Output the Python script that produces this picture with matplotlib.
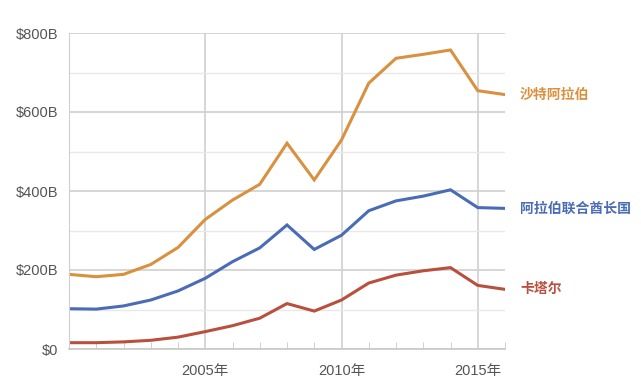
import matplotlib
matplotlib.use("Agg")
import matplotlib.pyplot as plt
from matplotlib.ticker import MultipleLocator, FixedLocator, FuncFormatter

plt.rcParams['font.family'] = ['Liberation Sans', 'Noto Sans CJK SC', 'DejaVu Sans']

years = list(range(2000, 2017))
saudi = [189, 183, 189, 214, 257, 328, 377, 417, 521, 428, 529, 673, 736, 746, 757, 654, 644]
uae = [102, 101, 109, 124, 147, 179, 221, 256, 314, 252, 288, 350, 375, 387, 403, 358, 356]
qatar = [16, 16, 18, 22, 30, 44, 59, 78, 115, 96, 124, 167, 187, 198, 206, 161, 151]
names = ['沙特阿拉伯', '阿拉伯联合酋长国', '卡塔尔']
colors = ['#d9913f', '#4a6cb6', '#b9503e']
label_years = [2005, 2010, 2015]

fig = plt.figure(figsize=(6.41, 3.84), dpi=100)
ax = fig.add_axes([69 / 641, 1 - 349 / 384, 436 / 641, 316 / 384])

for vals, name, c in zip([saudi, uae, qatar], names, colors):
    ax.plot(years, vals, color=c, lw=2.2, solid_joinstyle='miter')
    ax.text(years[-1] + 0.55, vals[-1], name, color=c, fontsize=10,
            fontweight='bold', va='center', ha='left',
            family=['Noto Sans CJK SC', 'DejaVu Sans'])

ax.set_xlim(2000, 2016)
ax.set_ylim(0, 800)
ax.yaxis.set_major_locator(MultipleLocator(200))
ax.yaxis.set_minor_locator(MultipleLocator(100))
ax.yaxis.set_major_formatter(FuncFormatter(lambda v, p: '$0' if v == 0 else '$%dB' % v))
ax.xaxis.set_major_locator(FixedLocator(label_years))
ax.xaxis.set_minor_locator(MultipleLocator(1))
ax.xaxis.set_major_formatter(FuncFormatter(lambda v, p: '%d年' % v))

ax.grid(which='major', color='#d0d0d0', lw=1.2)
ax.grid(which='minor', axis='y', color='#e8e8e8', lw=1)
ax.set_axisbelow(True)

for s in ['top', 'right']:
    ax.spines[s].set_visible(False)
ax.spines['left'].set_color('#d0d0d0')
ax.spines['bottom'].set_color('#c8c8c8')
ax.spines['bottom'].set_linewidth(1.2)

ax.tick_params(axis='y', which='both', length=0, labelsize=10.5, labelcolor='#555555', pad=8)
ax.tick_params(axis='x', which='major', length=0, labelsize=10.5, labelcolor='#555555', pad=11)
ax.tick_params(axis='x', which='minor', direction='in', length=5, color='#c8c8c8')
for lab in ax.get_xticklabels():
    lab.set_family(['Liberation Sans', 'Noto Sans CJK SC'])

fig.savefig('out.png', dpi=100)
